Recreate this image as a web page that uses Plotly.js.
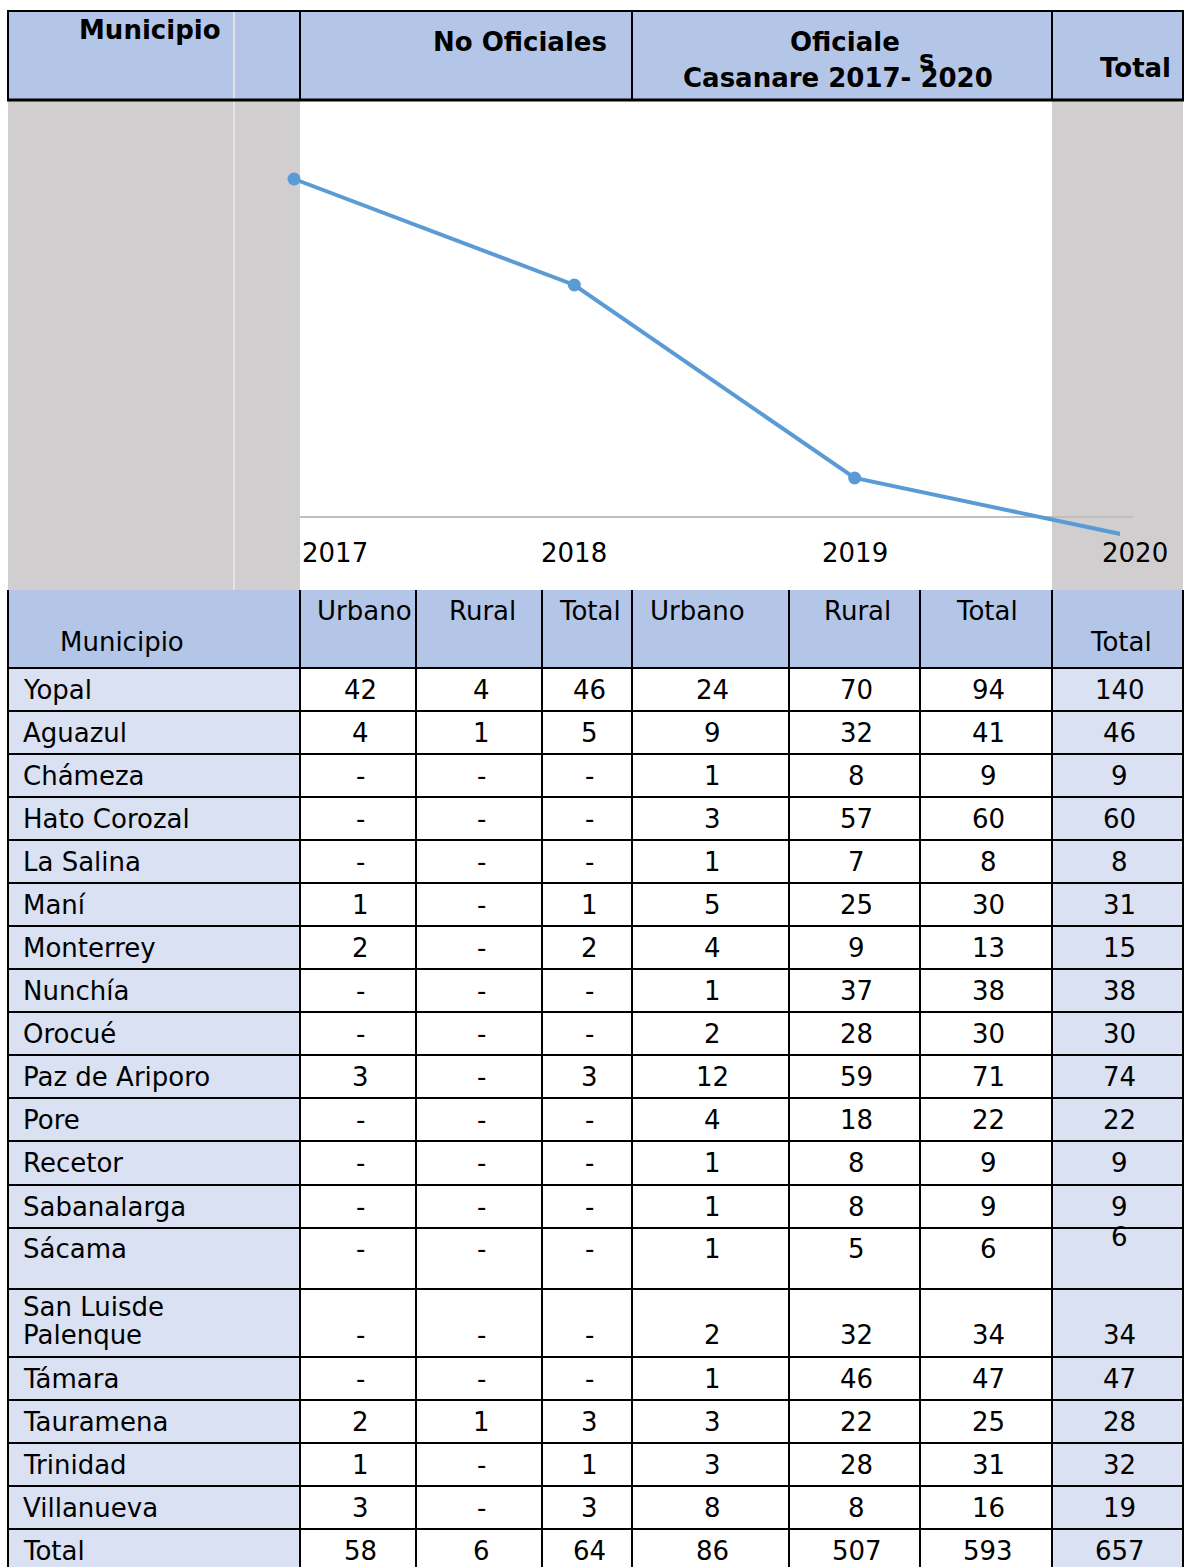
<!DOCTYPE html>
<html>
<head>
<meta charset="utf-8">
<script src="https://cdn.plot.ly/plotly-3.0.1.min.js"></script>
<style>html,body{margin:0;padding:0;background:#fff;}#chart{width:1185px;height:1567px;}</style>
</head>
<body>
<div id="chart"></div>
<script>
// ---------- DATA ----------
const years = [2017, 2018, 2019, 2020];
const trend = [338, 232, 39, -20];   // relative level

const municipios = ['Yopal','Aguazul','Chámeza','Hato Corozal','La Salina','Maní','Monterrey','Nunchía','Orocué','Paz de Ariporo','Pore','Recetor','Sabanalarga','Sácama','San Luisde|Palenque','Támara','Tauramena','Trinidad','Villanueva','Total'];
const noOfUrbano = [42,4,null,null,null,1,2,null,null,3,null,null,null,null,null,null,2,1,3,58];
const noOfRural  = [4,1,null,null,null,null,null,null,null,null,null,null,null,null,null,null,1,null,null,6];
const noOfTotal  = [46,5,null,null,null,1,2,null,null,3,null,null,null,null,null,null,3,1,3,64];
const ofUrbano   = [24,9,1,3,1,5,4,1,2,12,4,1,1,1,2,1,3,3,8,86];
const ofRural    = [70,32,8,57,7,25,9,37,28,59,18,8,8,5,32,46,22,28,8,507];
const ofTotal    = [94,41,9,60,8,30,13,38,30,71,22,9,9,6,34,47,25,31,16,593];
const totalGen   = [140,46,9,60,8,31,15,38,30,74,22,9,9,6,34,47,28,32,19,657];

const subHeaders = ['Urbano','Rural','Total','Urbano','Rural','Total','Total'];

// ---------- LAYOUT GEOMETRY ----------
const W = 1185, H = 1567;
const FONT = 'DejaVu Sans';
const BLUE_H = '#B4C6E7', BLUE_L = '#D9E1F2', GRAY = '#D0CECE';
const colEdges = [8, 300, 416, 542, 632, 789, 920, 1052, 1183];
const rowHeights = [43,43,43,43,43,43,43,43,43,43,43,44,43,61,68,43,43,43,43,43];
const tableTop = 668, subHeadTop = 590;
const rowAlign = {13: 'top', 14: 'bottom'};

function fx(p){ return p / W; }
function fy(p){ return 1 - p / H; }

const shapes = [];
const ann = [];
function rect(x0,y0,x1,y1,color){
  shapes.push({type:'rect',xref:'paper',yref:'paper',x0:fx(x0),x1:fx(x1),y0:fy(y1),y1:fy(y0),
    fillcolor:color,line:{width:0},layer:'below'});
}
function line(x0,y0,x1,y1,color,w){
  shapes.push({type:'line',xref:'paper',yref:'paper',x0:fx(x0),x1:fx(x1),y0:fy(y0),y1:fy(y1),
    line:{color:color,width:w},layer:'below'});
}
function text(t,x,y,anchor,bold,size){
  ann.push({text:bold?'<b>'+t+'</b>':t,xref:'paper',yref:'paper',x:fx(x),y:fy(y),
    xanchor:anchor||'center',yanchor:'middle',showarrow:false,borderpad:0,
    font:{family:FONT,size:size||26,color:'#000'}});
}

// row edges
const rowEdges = [tableTop];
rowHeights.forEach(h => rowEdges.push(rowEdges[rowEdges.length-1] + h));

// ---- top header block ----
rect(8, 11, 1183, 100, BLUE_H);
rect(8, 100, 300, 590, GRAY);
rect(1052, 100, 1183, 590, GRAY);
line(234, 11, 234, 590, '#E4E3E3', 2);
line(7, 11, 1184, 11, '#000', 2);
line(7, 100, 1184, 100, '#000', 3);
line(8, 11, 8, 100, '#000', 2);
[300, 632, 1052, 1183].forEach(x => line(x, 11, x, 100, '#000', 2));

// ---- sub header + body fills ----
rect(8, subHeadTop, 1183, tableTop, BLUE_H);
rect(8, tableTop, 300, H, BLUE_L);
rect(300, tableTop, 1052, H, '#FFFFFF');
rect(1052, tableTop, 1183, H, BLUE_L);

// grid
rowEdges.forEach(y => line(7, y, 1184, y, '#000', 2));
colEdges.forEach(x => line(x, subHeadTop, x, H, '#000', 2));

// x-axis baseline of the embedded chart
line(300, 517, 1133, 517, '#BFBFBF', 2);

// ---- header texts ----
text('Municipio', 150, 30, 'center', true);
text('No Oficiales', 520, 42, 'center', true);
text('Oficiale', 845, 42, 'center', true);
text('s', 927, 60, 'center', true);
text('Casanare 2017- 2020', 838, 78, 'center', true);
text('Total', 1135, 68, 'center', true);

text('Municipio', 122, 642, 'center');
const subPos = [364, 482, 590, 649, 857, 987, 1121];
subHeaders.forEach((s,i) => {
  if (i === 3) text(s, subPos[i], 611, 'left');
  else text(s, subPos[i], i === 6 ? 642 : 611, 'center');
});

// ---- body texts ----
const cols = [noOfUrbano, noOfRural, noOfTotal, ofUrbano, ofRural, ofTotal, totalGen];
municipios.forEach((m, r) => {
  const top = rowEdges[r], bot = rowEdges[r+1];
  const al = rowAlign[r] || 'middle';
  const yc = al === 'top' ? top + 21 : al === 'bottom' ? bot - 22 : (top + bot) / 2;
  const parts = m.split('|');
  if (parts.length === 2) {
    text(parts[0], 22, yc - 28, 'left');
    text(parts[1], 22, yc, 'left');
  } else {
    text(m, 22, yc, 'left');
  }
  cols.forEach((c, j) => {
    const v = c[r];
    const xc = (colEdges[j+1] + colEdges[j+2]) / 2 + 2;
    let y = yc;
    if (r === 13 && j === 6) y = top + 9;
    text(v === null ? '-' : String(v), xc, y, 'center');
  });
});

// ---- embedded line chart ----
const catPx0 = 294, catStep = 280.33;
const xDomPx = [280, 1120];
const yDomPx = [110, 580];
const baseY = 517;
function yrPx(yr){ return catPx0 + catStep * (yr - years[0]); }
years.forEach((yr, i) => {
  if (i === 0) text(String(yr), yrPx(yr) + 7, 553, 'left');
  else text(String(yr), yrPx(yr), 553, 'center');
});

const trace = {
  x: years, y: trend, type: 'scatter', mode: 'lines+markers',
  line: {color: '#5B9BD5', width: 4},
  marker: {color: '#5B9BD5', size: 13},
  hoverinfo: 'none'
};

const layout = {
  width: W, height: H,
  margin: {l:0, r:0, t:0, b:0},
  paper_bgcolor: '#FFFFFF',
  plot_bgcolor: 'rgba(0,0,0,0)',
  showlegend: false,
  xaxis: {
    domain: [fx(xDomPx[0]), fx(xDomPx[1])],
    range: [years[0] + (xDomPx[0] - catPx0) / catStep, years[0] + (xDomPx[1] - catPx0) / catStep],
    showgrid: false, zeroline: false, showticklabels: false, ticks: '', showline: false, fixedrange: true
  },
  yaxis: {
    domain: [fy(yDomPx[1]), fy(yDomPx[0])],
    range: [baseY - yDomPx[1], baseY - yDomPx[0]],
    showgrid: false, zeroline: false, showticklabels: false, ticks: '', showline: false, fixedrange: true
  },
  shapes: shapes,
  annotations: ann
};

Plotly.newPlot('chart', [trace], layout, {displayModeBar: false, staticPlot: true});
</script>
</body>
</html>
